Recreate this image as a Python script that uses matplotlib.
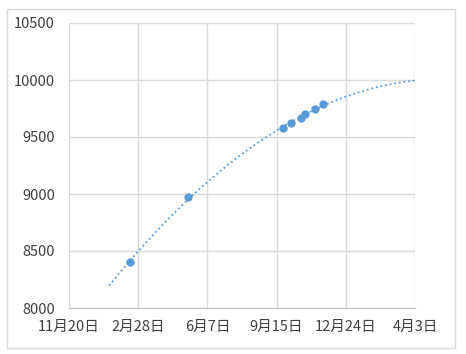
import matplotlib
matplotlib.use("Agg")
import matplotlib.pyplot as plt
import matplotlib.dates as mdates
from matplotlib.patches import Rectangle
from matplotlib.ticker import FuncFormatter, FixedLocator
import numpy as np

plt.rcParams['font.family'] = ['Noto Sans CJK SC', 'DejaVu Sans']

# data
dates = ["2020-02-16", "2020-05-10", "2020-09-24", "2020-10-06",
         "2020-10-20", "2020-10-26", "2020-11-09", "2020-11-21"]
values = [8405, 8970, 9580, 9622, 9665, 9698, 9748, 9788]
x_start = "2019-11-20"
x_end = "2021-04-03"
tick_step_days = 100
trend_from = "2020-01-17"
y_ticks = [8000, 8500, 9000, 9500, 10000, 10500]

xd = mdates.datestr2num(dates)
x0 = mdates.datestr2num(x_start)
x1 = mdates.datestr2num(x_end)

fig = plt.figure(figsize=(4.66, 3.54), dpi=100)
fig.patches.append(Rectangle((7/466, 1-348/354), 448/466, 339/354,
                             transform=fig.transFigure, fill=False,
                             edgecolor='#D9D9D9', linewidth=1))
ax = fig.add_axes([69/466, 1-308/354, 346/466, 285/354])

blue = '#5B9BD5'
# polynomial trendline (order 2)
coef = np.polyfit(xd - x0, values, 2)
tx = np.linspace(mdates.datestr2num(trend_from), x1, 300)
ax.plot(tx, np.polyval(coef, tx - x0), linestyle=(0, (1, 1.6)),
        color=blue, linewidth=1.3, zorder=2)
ax.scatter(xd, values, s=36, color=blue, zorder=3, linewidths=0)

ax.set_xlim(x0, x1)
ax.set_ylim(y_ticks[0], y_ticks[-1])
ax.xaxis.set_major_locator(FixedLocator(np.arange(x0, x1 + 1, tick_step_days)))

def fmt(v, pos):
    d = mdates.num2date(v)
    return f"{d.month}月{d.day}日"
ax.xaxis.set_major_formatter(FuncFormatter(fmt))
ax.set_yticks(y_ticks)

ax.grid(True, color='#D9D9D9', linewidth=1)
ax.set_axisbelow(True)
for s in ['top', 'right', 'left']:
    ax.spines[s].set_visible(False)
ax.spines['bottom'].set_color('#BFBFBF')
ax.tick_params(axis='both', length=0, labelsize=10.5, labelcolor='#404040')
ax.tick_params(axis='x', pad=8.5)
ax.tick_params(axis='y', pad=10)

fig.savefig("out.png", dpi=100)
